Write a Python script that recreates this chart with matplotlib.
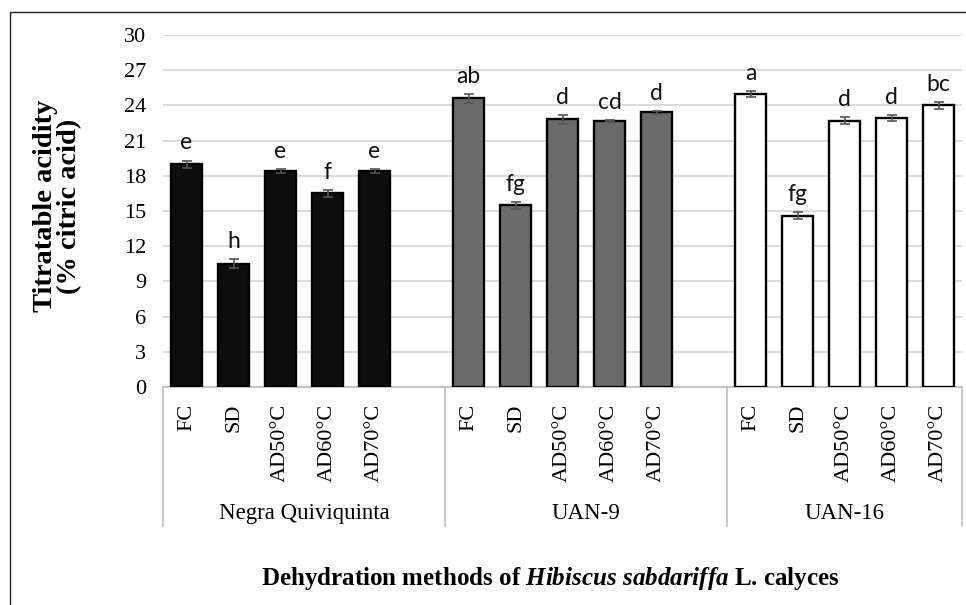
import matplotlib.pyplot as plt
import numpy as np
from matplotlib.patches import Rectangle

plt.rcParams['mathtext.fontset'] = 'custom'
plt.rcParams['mathtext.rm'] = 'Liberation Serif:bold'
plt.rcParams['mathtext.it'] = 'Liberation Serif:italic:bold'

groups = ['Negra Quiviquinta', 'UAN-9', 'UAN-16']
methods = ['FC', 'SD', 'AD50°C', 'AD60°C', 'AD70°C']

nq_vals = [19.0, 10.5, 18.4, 16.5, 18.4]
nq_err = [0.3, 0.4, 0.2, 0.3, 0.2]
nq_letters = ['e', 'h', 'e', 'f', 'e']

uan9_vals = [24.6, 15.5, 22.8, 22.7, 23.4]
uan9_err = [0.4, 0.3, 0.4, 0.05, 0.15]
uan9_letters = ['ab', 'fg', 'd', 'cd', 'd']

uan16_vals = [25.0, 14.6, 22.7, 22.9, 24.0]
uan16_err = [0.25, 0.3, 0.3, 0.25, 0.3]
uan16_letters = ['a', 'fg', 'd', 'd', 'bc']

series = [(nq_vals, nq_err, nq_letters, '#0d0d0d'),
          (uan9_vals, uan9_err, uan9_letters, '#6b6b6b'),
          (uan16_vals, uan16_err, uan16_letters, 'white')]

fig = plt.figure(figsize=(9.66, 6.05), dpi=100)
ax = fig.add_axes([163 / 966, 1 - 387 / 605, (962 - 163) / 966, (387 - 35) / 605])

# figure frame (left and top edges visible)
fig.add_artist(Rectangle((10 / 966, -0.1), 1.2, 1.1 - 12 / 605,
                         transform=fig.transFigure, fill=False,
                         edgecolor='#222222', linewidth=1.0))

xpos = []
xlabels = []
for g, (vals, err, letters, color) in enumerate(series):
    x = np.arange(len(vals)) + g * 6
    ax.bar(x, vals, 0.66, color=color, edgecolor='black', linewidth=1.7, zorder=3)
    ax.errorbar(x, vals, yerr=err, fmt='none', ecolor='#555555', elinewidth=1.2,
                capsize=3.5, capthick=1.2, zorder=4)
    for xi, v, e, t in zip(x, vals, err, letters):
        ax.annotate(t, (xi, v + e), xytext=(0, 8), textcoords='offset points',
                    ha='center', va='baseline', fontsize=16.5, family='Lato', color='#111111')
    xpos.extend(x)
    xlabels.extend(methods)

ax.set_xlim(-0.5, 16.5)
ax.set_ylim(0, 30)
ax.set_yticks(np.arange(0, 31, 3))
ax.set_xticks(xpos)
ax.set_xticklabels(xlabels, rotation=90, va='top', family='Liberation Serif', fontsize=16)
ax.tick_params(axis='x', length=0, pad=12)
ax.tick_params(axis='y', length=0, pad=12)
for lab in ax.get_yticklabels():
    lab.set_family('Liberation Serif')
    lab.set_fontsize(16)

ax.grid(axis='y', color='#d4d4d4', linewidth=1.2, zorder=0)
for s in ['top', 'right', 'left']:
    ax.spines[s].set_visible(False)
ax.spines['bottom'].set_color('#bfbfbf')
ax.spines['bottom'].set_linewidth(1.2)

# category box separators and group labels
seps = [-0.5, 5.5, 11.5, 16.5]
for s in seps:
    ax.plot([s, s], [0, -0.395], color='#bfbfbf', linewidth=1.2,
            transform=ax.get_xaxis_transform(), clip_on=False)
for g, name in enumerate(groups):
    cx = (seps[g] + seps[g + 1]) / 2
    ax.text(cx, -0.36, name, transform=ax.get_xaxis_transform(), ha='center', va='center',
            family='Liberation Serif', fontsize=16.5)

fig.text(58 / 966, 1 - 206 / 605, 'Titratable acidity\n(% citric acid)', rotation=90,
         ha='center', va='center', family='Liberation Serif', fontweight='bold',
         fontsize=20.5, linespacing=0.95)
fig.text(550 / 966, 1 - 578 / 605,
         r'Dehydration methods of $\mathit{Hibiscus\ sabdariffa}$ L. calyces',
         ha='center', va='center', family='Liberation Serif', fontweight='bold', fontsize=18)

fig.savefig('out.png', dpi=100)
